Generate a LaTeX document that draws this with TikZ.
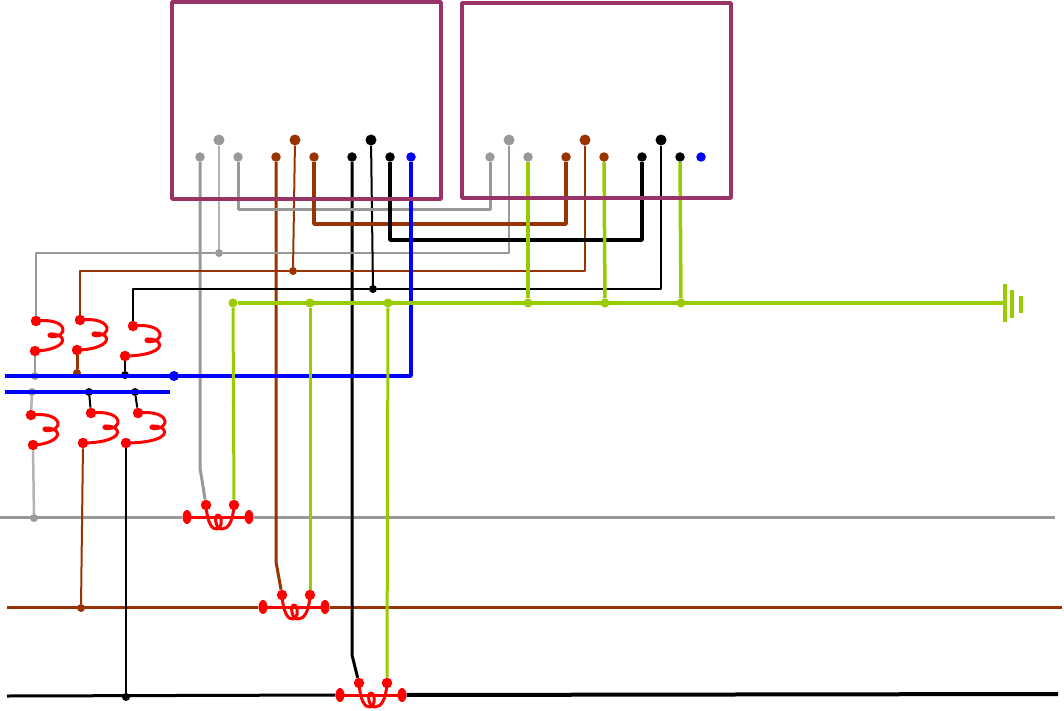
\documentclass[tikz,border=0pt]{standalone}
\usetikzlibrary{shapes,arrows.meta}
\definecolor{Frame}{HTML}{993366}
\definecolor{Grey}{HTML}{999999}
\definecolor{LGrey}{HTML}{B3B3B3}
\definecolor{Brown}{HTML}{993300}
\definecolor{Green}{HTML}{99CC00}
\tikzset{
  term/.style={circle,fill=#1,inner sep=0pt,minimum size=9.5pt},
  bigterm/.style={circle,fill=#1,inner sep=0pt,minimum size=11pt},
  junc/.style={circle,fill=#1,inner sep=0pt,minimum size=8pt},
  reddot/.style={circle,fill=red,inner sep=0pt,minimum size=10.5pt},
  redend/.style={ellipse,fill=red,inner sep=0pt,minimum width=9pt,minimum height=14pt},
  pics/spring/.style={code={
    \draw[red,line width=3pt] (0,0) .. controls (15,-2) and (28,2) .. (27,10)
      .. controls (26,15) and (16,17) .. (13,15) .. controls (10,12) and (22,12) .. (26,17)
      .. controls (30,24) and (14,30) .. (#1,30);
    \node[reddot] (-t) at (0,0) {};
    \node[reddot] (-b) at (#1,30) {};
  }},
  pics/ctcoil/.style={code={
    \draw[red,line width=3pt] (-31,0) -- (31,0);
    \draw[red,line width=3pt] (-12,-12) .. controls (-11,5) and (-6,13) .. (-1,12)
      .. controls (5,11) and (4,-2) .. (0,-2) .. controls (-4,-2) and (-3,12) .. (4,12)
      .. controls (10,12) and (15,5) .. (16,-12);
    \node[redend] (-w) at (-31,0) {};
    \node[redend] (-e) at (31,0) {};
    \node[reddot] (-p) at (-12,-12) {};
    \node[reddot] (-q) at (16,-12) {};
  }}
}

\begin{document}
\begin{tikzpicture}[x=1pt,y=-1pt,line join=round]
  \useasboundingbox (0,0) rectangle (1064,711);
  % terminals of the two cabinets
  \foreach \bx/\o in {a/0,b/290}
  {\foreach \x/\col[count=\n] in {200/Grey,238/Grey,276/Brown,314/Brown,352/black,390/black,411/blue}
    {\node[term=\col] (\bx\n) at (\x+\o,157) {};}
   \foreach \x/\col[count=\n] in {219/Grey,295/Brown,371/black}
    {\node[bigterm=\col] (\bx u\n) at (\x+\o,140) {};}}
  % coils
  \foreach \n/\x/\y/\d in {1/36/321/-1, 2/80/320/-3, 3/133/326/-8, 4/31/415/2, 5/91/413/-8, 6/138/413/-12}
    {\pic (c\n) at (\x,\y) {spring=\d};}
  \pic (cA) at (218,517) {ctcoil};
  \pic (cB) at (294,607) {ctcoil};
  \pic (cC) at (371,695) {ctcoil};
  % junctions
  \foreach \n/\x/\y/\col in {j1/35/376/Grey, j2/77/373/Brown, j3/125/375/black,
    k1/32/392/Grey, k2/89/392/black, k3/135/392/black,
    m1/34/518/Grey, m2/81/608/Brown, m3/126/697/black,
    u1/219/253/Grey, u2/293/271/Brown, u3/373/289/black}
    {\node[junc=\col] (\n) at (\x,\y) {};}
  \foreach \x[count=\n] in {233,310,388,528,605,681}
    {\node[junc=Green,minimum size=9pt] (g\n) at (\x,303) {};}
  \node[term=blue,minimum size=10pt] (bd) at (174,376) {};
  \coordinate (gw) at (0,517);
  \coordinate (ge) at (1055,517);
  \coordinate (rw) at (7,607);
  \coordinate (re) at (1062,607);
  \coordinate (kw) at (7,696);
  \coordinate (ke) at (1058,694);
  \coordinate (bw) at (5,376);
  \coordinate (bw2) at (5,392);
  \coordinate (be2) at (170,392);
  \coordinate (gnd) at (1005,303);
  % buses
  \draw[Grey,line width=3pt] (gw) -- (cA-w) (cA-e) -- (ge);
  \draw[Brown,line width=3pt] (rw) -- (cB-w) (cB-e) -- (re);
  \draw[line width=3pt] (kw) -- (cC-w);
  \draw[line width=4pt] (cC-e) -- (ke);
  % wiring
  \draw[Grey,line width=3pt] (a1) -- ++(0,311) -- (cA-p);
  \draw[Brown,line width=3pt] (a3) -- ++(0,405) -- (cB-p);
  \draw[line width=3pt] (a5) -- ++(0,498) -- (cC-p);
  \draw[LGrey,line width=2.5pt] (au1) -- (u1);
  \draw[Grey,line width=2.5pt] (c1-t) |- (u1) -| (bu1);
  \draw[Brown,line width=2pt] (au2) -- (u2);
  \draw[Brown,line width=2.5pt] (c2-t) |- (u2) -| (bu2);
  \draw[line width=2pt] (au3) -- (u3);
  \draw[line width=2.5pt] (c3-t) |- (u3) -| (bu3);
  \draw[Grey,line width=3pt] (a2) -- ++(0,53) -| (b1);
  \draw[Brown,line width=3.5pt] (a4) -- ++(0,67) -| (b3);
  \draw[line width=3.5pt] (a6) -- ++(0,83) -| (b5);
  \draw[blue,line width=3.5pt] (a7) |- (bw);
  \draw[blue,line width=3.5pt] (bw2) -- (be2);
  \draw[Green,line width=3.5pt] (g1) -- (gnd);
  \foreach \t/\g in {b2/g4,b4/g5,b6/g6}
    {\draw[Green,line width=3.5pt] (\t) -- (\g);}
  \foreach \cc/\g in {cA/g1,cB/g2,cC/g3}
    {\draw[Green,line width=3pt] (\g) -- (\cc-q);}
  \draw[Grey,line width=2.5pt] (c1-b) -- (j1);
  \draw[Brown,line width=3pt] (c2-b) -- (j2);
  \draw[line width=2.5pt] (c3-b) -- (j3);
  \draw[LGrey,line width=2.5pt] (k1) -- (c4-t);
  \draw[line width=2pt] (k2) -- (c5-t);
  \draw[line width=2pt] (k3) -- (c6-t);
  \draw[LGrey,line width=2.5pt] (c4-b) -- (m1);
  \draw[Brown,line width=2pt] (c5-b) -- (m2);
  \draw[line width=2pt] (c6-b) -- (m3);
  % earth
  \draw[Green,line width=3.5pt] (gnd) ++(0,-19) -- ++(0,38) ++(7,-32) -- ++(0,28) ++(9,-22) -- ++(0,17);
  % cabinets
  \draw[Frame,line width=3.5pt] (172,2) rectangle (441,199);
  \draw[Frame,line width=3.5pt] (462,3) rectangle (731,198);
\end{tikzpicture}
\end{document}
